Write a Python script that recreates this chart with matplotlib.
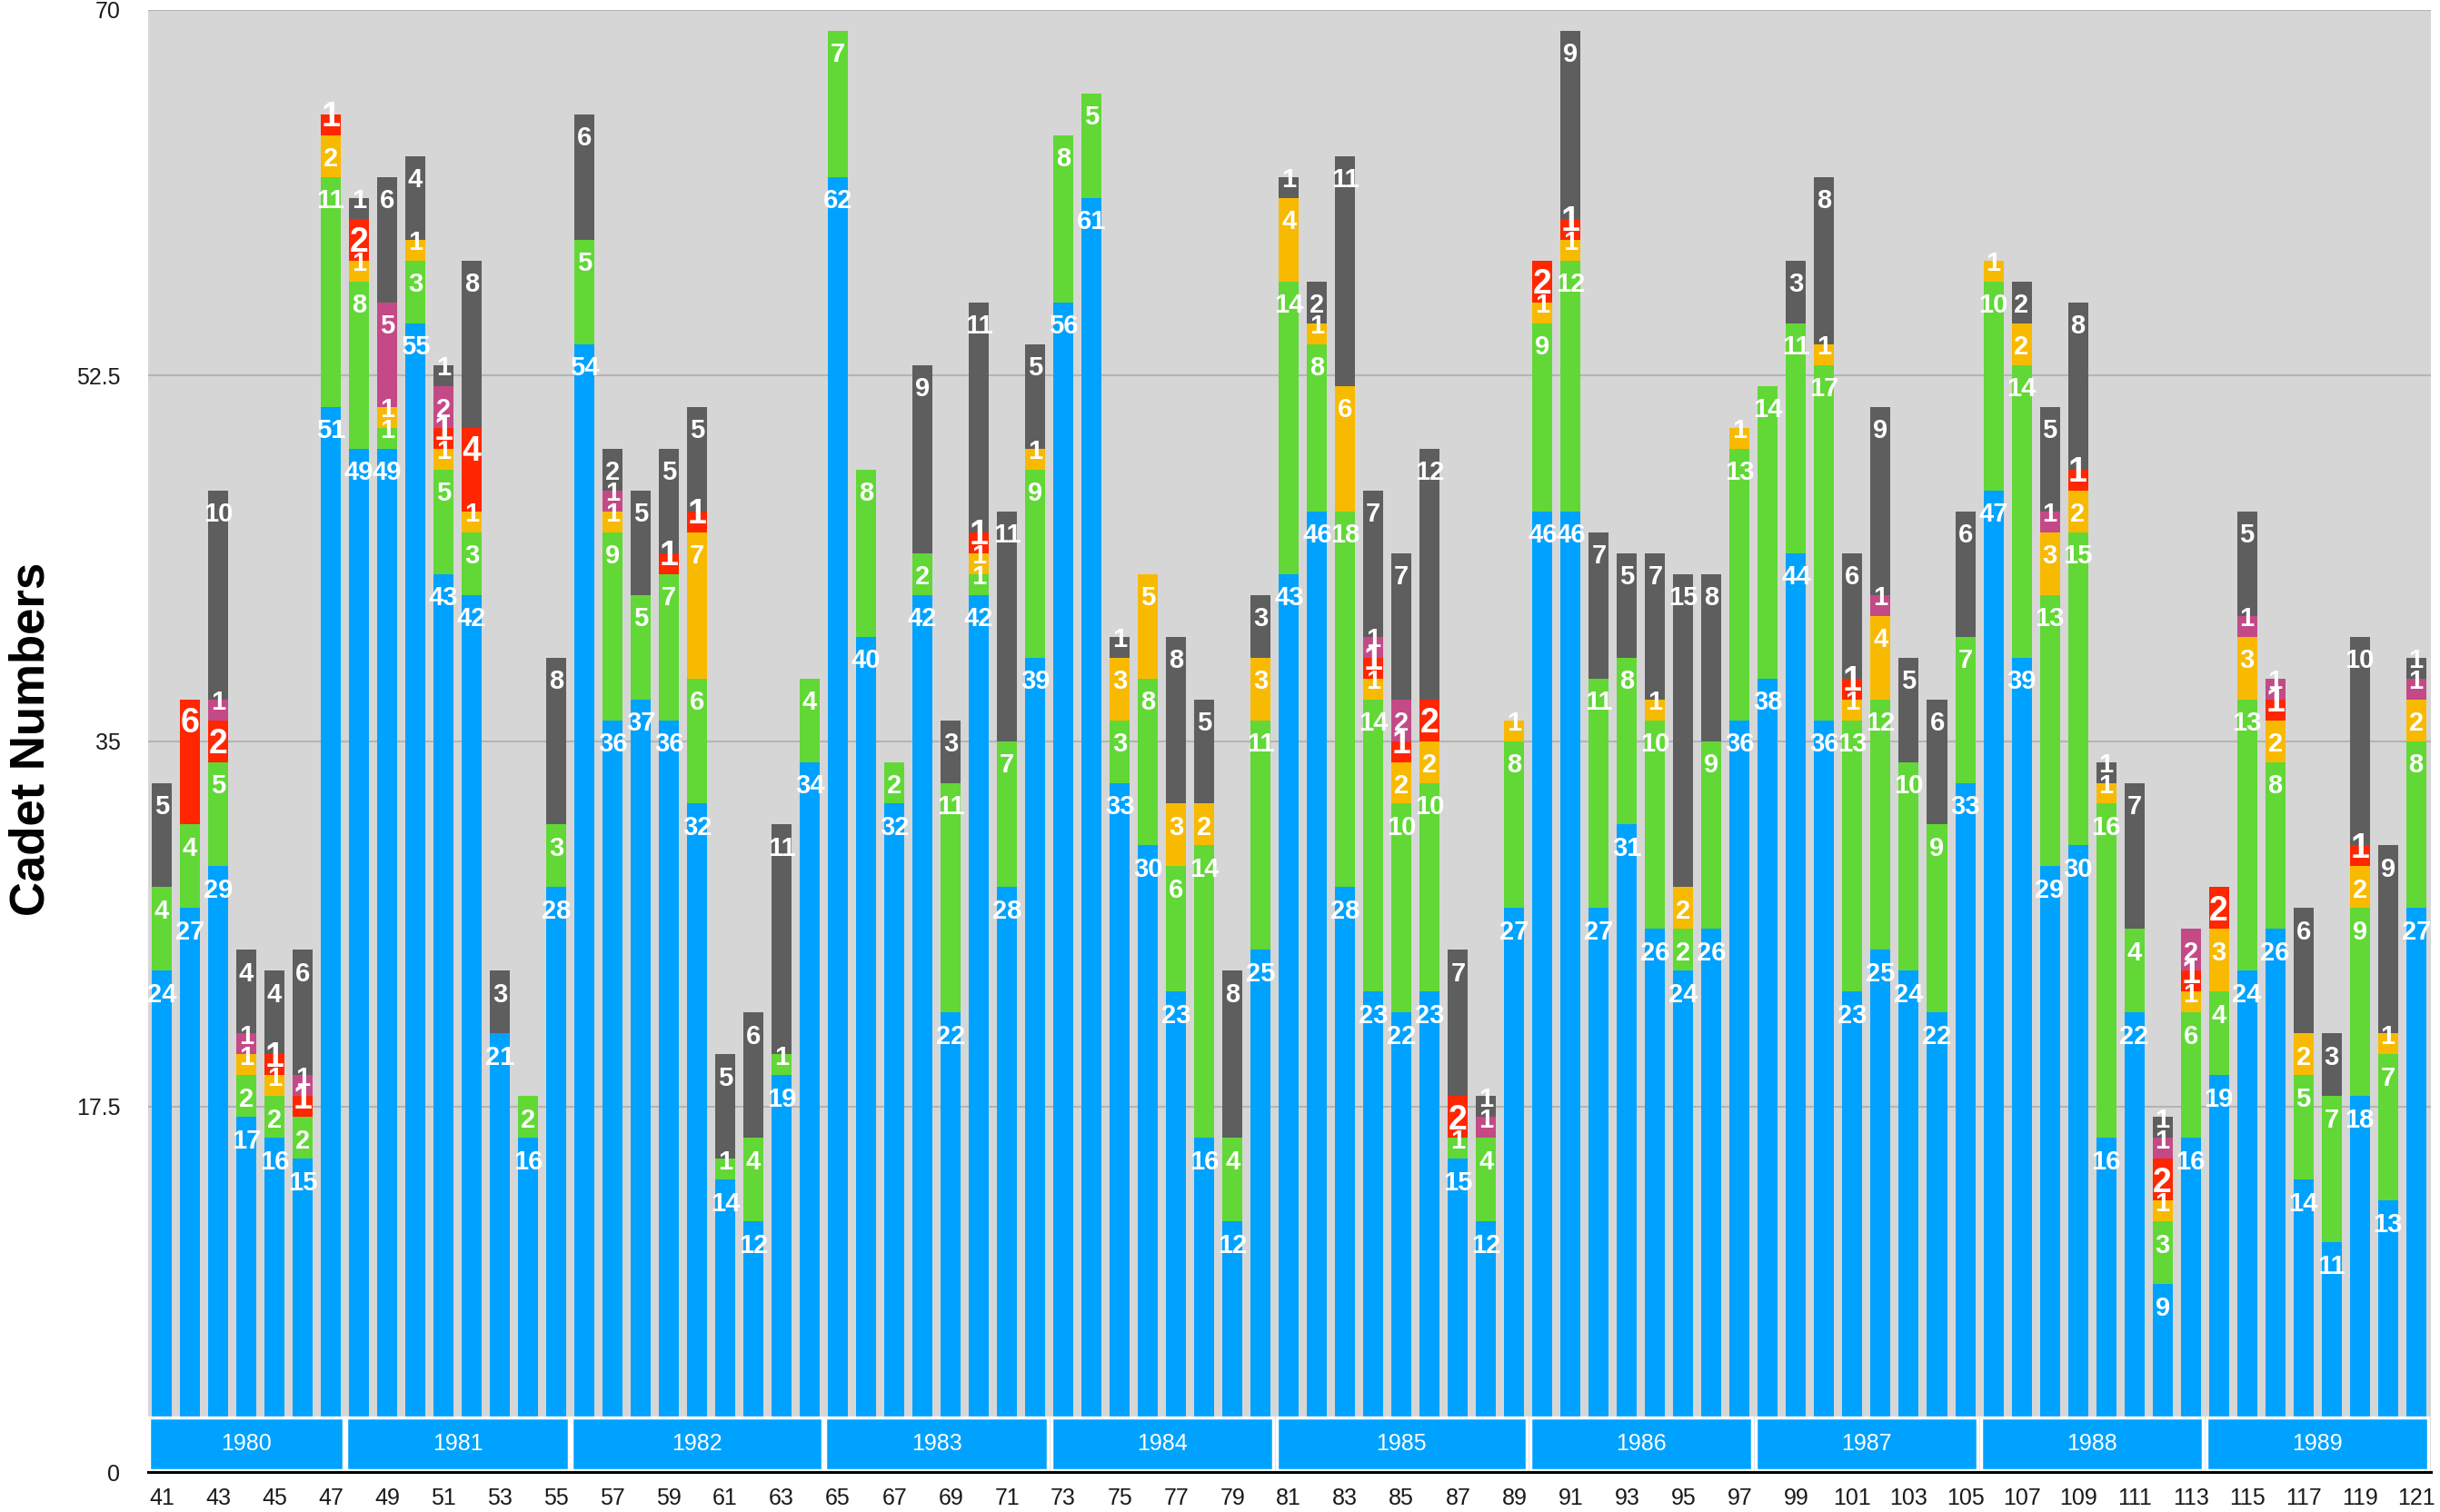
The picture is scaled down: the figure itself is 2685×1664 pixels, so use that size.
import matplotlib.pyplot as plt
from matplotlib.patches import Rectangle

plt.rcParams['font.family'] = ['Liberation Sans', 'DejaVu Sans']

# class numbers 41..121
classes = list(range(41, 122))

blue = [24, 27, 29, 17, 16, 15, 51, 49, 49, 55,
        43, 42, 21, 16, 28, 54, 36, 37, 36, 32,
        14, 12, 19, 34, 62, 40, 32, 42, 22, 42,
        28, 39, 56, 61, 33, 30, 23, 16, 12, 25,
        43, 46, 28, 23, 22, 23, 15, 12, 27, 46,
        46, 27, 31, 26, 24, 26, 36, 38, 44, 36,
        23, 25, 24, 22, 33, 47, 39, 29, 30, 16,
        22, 9, 16, 19, 24, 26, 14, 11, 18, 13,
        27]
green = [4, 4, 5, 2, 2, 2, 11, 8, 1, 3,
         5, 3, 0, 2, 3, 5, 9, 5, 7, 6,
         1, 4, 1, 4, 7, 8, 2, 2, 11, 1,
         7, 9, 8, 5, 3, 8, 6, 14, 4, 11,
         14, 8, 18, 14, 10, 10, 1, 4, 8, 9,
         12, 11, 8, 10, 2, 9, 13, 14, 11, 17,
         13, 12, 10, 9, 7, 10, 14, 13, 15, 16,
         4, 3, 6, 4, 13, 8, 5, 7, 9, 7,
         8]
yellow = [0, 0, 0, 1, 1, 0, 2, 1, 1, 1,
          1, 1, 0, 0, 0, 0, 1, 0, 0, 7,
          0, 0, 0, 0, 0, 0, 0, 0, 0, 1,
          0, 1, 0, 0, 3, 5, 3, 2, 0, 3,
          4, 1, 6, 1, 2, 2, 0, 0, 1, 1,
          1, 0, 0, 1, 2, 0, 1, 0, 0, 1,
          1, 4, 0, 0, 0, 1, 2, 3, 2, 1,
          0, 1, 1, 3, 3, 2, 2, 0, 2, 1,
          2]
red = [0, 6, 2, 0, 1, 1, 1, 2, 0, 0,
       1, 4, 0, 0, 0, 0, 0, 0, 1, 1,
       0, 0, 0, 0, 0, 0, 0, 0, 0, 1,
       0, 0, 0, 0, 0, 0, 0, 0, 0, 0,
       0, 0, 0, 1, 1, 2, 2, 0, 0, 2,
       1, 0, 0, 0, 0, 0, 0, 0, 0, 0,
       1, 0, 0, 0, 0, 0, 0, 0, 1, 0,
       0, 2, 1, 2, 0, 1, 0, 0, 1, 0,
       0]
magenta = [0, 0, 1, 1, 0, 1, 0, 0, 5, 0,
           2, 0, 0, 0, 0, 0, 1, 0, 0, 0,
           0, 0, 0, 0, 0, 0, 0, 0, 0, 0,
           0, 0, 0, 0, 0, 0, 0, 0, 0, 0,
           0, 0, 0, 1, 2, 0, 0, 1, 0, 0,
           0, 0, 0, 0, 0, 0, 0, 0, 0, 0,
           0, 1, 0, 0, 0, 0, 0, 1, 0, 0,
           0, 1, 2, 0, 1, 1, 0, 0, 0, 0,
           1]
gray = [5, 0, 10, 4, 4, 6, 0, 1, 6, 4,
        1, 8, 3, 0, 8, 6, 2, 5, 5, 5,
        5, 6, 11, 0, 0, 0, 0, 9, 3, 11,
        11, 5, 0, 0, 1, 0, 8, 5, 8, 3,
        1, 2, 11, 7, 7, 12, 7, 1, 0, 0,
        9, 7, 5, 7, 15, 8, 0, 0, 3, 8,
        6, 9, 5, 6, 6, 0, 2, 5, 8, 1,
        7, 1, 0, 0, 5, 0, 6, 3, 10, 9,
        1]

years = ['1980', '1981', '1982', '1983', '1984', '1985', '1986', '1987', '1988', '1989']
year_first = [41, 48, 56, 65, 73, 81, 90, 98, 106, 114]
year_last = [47, 55, 64, 72, 80, 89, 97, 105, 113, 121]

series = [blue, green, yellow, red, magenta, gray]
colors = ['#00a2ff', '#61d836', '#f8ba00', '#ff2600', '#c34a87', '#5e5e5e']

fig = plt.figure(figsize=(26.85, 16.64), dpi=100)
ax = fig.add_axes([0.0607, 0.0264, 0.9355, 0.967])
ax.set_facecolor('#d6d6d6')

bottom = [0] * len(classes)
for vals, col in zip(series, colors):
    ax.bar(classes, vals, width=0.71, bottom=bottom, color=col, zorder=2)
    for x, b, h in zip(classes, bottom, vals):
        if h == 0:
            continue
        top = b + h
        off = min(1.15, h - 0.85)
        fs = 27 if col == '#ff2600' else 21
        ax.text(x, top - off, str(h), ha='center', va='center', color='white',
                fontsize=fs, fontweight='bold', zorder=4)
    bottom = [b + v for b, v in zip(bottom, vals)]

# year band
for yr, s, e in zip(years, year_first, year_last):
    ax.add_patch(Rectangle((s - 0.5 + 0.06, 0.1), e - s + 1 - 0.12, 2.5,
                           facecolor='#00a2ff', edgecolor='white', lw=2.5, zorder=5))
    ax.text((s + e) / 2, 1.35, yr, ha='center', va='center', color='white',
            fontsize=18, zorder=6)

ax.set_xlim(40.52, 121.52)
ax.set_ylim(0, 70)
ax.set_yticks([0, 17.5, 35, 52.5, 70])
ax.set_yticklabels(['0', '17.5', '35', '52.5', '70'])
ax.set_xticks(classes[::2])
ax.tick_params(axis='both', length=0, labelsize=18, labelcolor='#1a1a1a')
ax.tick_params(axis='y', pad=22)
ax.tick_params(axis='x', pad=12)
ax.grid(axis='y', color='#b4b4b4', lw=1.5, zorder=1)
ax.set_axisbelow(True)
for sp in ['top', 'right', 'left']:
    ax.spines[sp].set_visible(False)
ax.spines['bottom'].set_color('black')
ax.spines['bottom'].set_linewidth(2.2)
ax.spines['bottom'].set_zorder(7)

fig.text(0.0127, 0.511, 'Cadet Numbers', rotation=90, ha='center', va='center',
         fontsize=38, fontweight='bold')

fig.savefig('out.png', dpi=100)
